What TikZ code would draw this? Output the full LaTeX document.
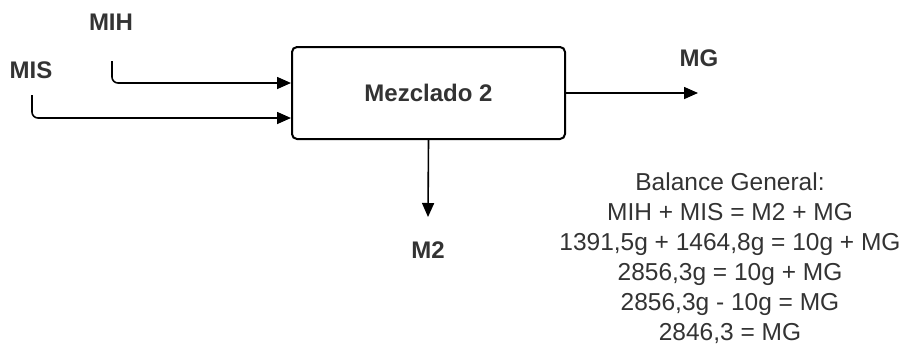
\documentclass[tikz,border=0pt]{standalone}
\usepackage{fontspec}
\setmainfont{Liberation Sans}
\usetikzlibrary{arrows.meta}
\definecolor{txt}{HTML}{333333}
\tikzset{
  lbl/.style={text=txt, font=\fontsize{24}{28}\selectfont\bfseries, inner sep=0pt},
  procbox/.style={draw=black, line width=2pt, rounded corners=5pt, minimum width=273pt, minimum height=92pt, inner sep=0pt, text=txt, font=\fontsize{24}{28}\selectfont\bfseries},
  flow/.style={draw=black, line width=1.6pt, -{Triangle[length=14pt,width=12pt]}},
  baltext/.style={text=txt, align=center, inner sep=0pt, font=\fontsize{24.5}{30}\selectfont}
}
\begin{document}
\begin{tikzpicture}[x=1pt,y=-1pt]
\useasboundingbox (0,0) rectangle (909,346);
\node[procbox] (box) at (428.5,93) {Mezclado 2};
\node[lbl] (mih) at (111,22) {MIH};
\node[lbl] (mis) at (31,70) {MIS};
\node[lbl] (mg) at (699,58) {MG};
\node[lbl] (m2) at (428,250) {M2};
\coordinate (mihstart) at (112,61);
\coordinate (misstart) at (32,95);
\coordinate (mgend) at (698,93);
\coordinate (m2end) at (428,217);
\draw[flow, rounded corners=6pt] (mihstart) |- ([yshift=10pt]box.west);
\draw[flow, rounded corners=6pt] (misstart) |- ([yshift=-25pt]box.west);
\draw[flow] (box.east) -- (mgend);
\draw[flow] (box.south) -- (m2end);
\node[baltext] (bal) at (730,258) {Balance General:\\MIH + MIS = M2 + MG\\1391,5g + 1464,8g = 10g + MG\\2856,3g = 10g + MG\\2856,3g - 10g = MG\\2846,3 = MG};
\end{tikzpicture}
\end{document}
